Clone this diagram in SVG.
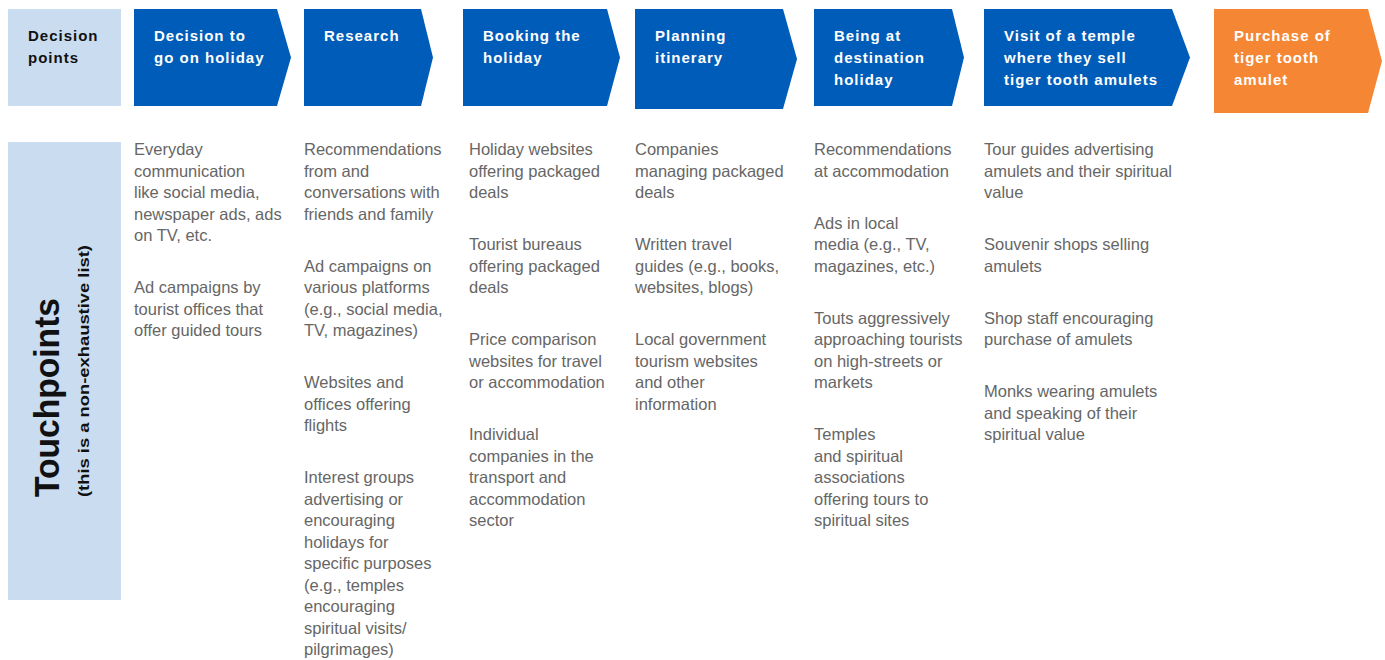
<svg xmlns="http://www.w3.org/2000/svg" width="1385" height="660" viewBox="0 0 1385 660">
<style>
.lbl{fill:#c9dcf0}
.blue{fill:#005cb9}
.orange{fill:#f58634}
.hd{font-family:"Liberation Sans",Arial,sans-serif;font-weight:bold;font-size:15px;letter-spacing:1px;fill:#ffffff}
.hdk{font-family:"Liberation Sans",Arial,sans-serif;font-weight:bold;font-size:15px;letter-spacing:1px;fill:#111111}
.tx{font-family:"Liberation Sans",Arial,sans-serif;font-size:16.5px;fill:#666666}
.big{font-family:"Liberation Sans",Arial,sans-serif;font-weight:bold;fill:#111111}
</style>
<rect width="1385" height="660" fill="#ffffff"/>

<g id="decision-points">
<rect class="lbl" x="8" y="9" width="113" height="97"/>
<text class="hdk" x="28" y="40.7">Decision</text>
<text class="hdk" x="28" y="62.7">points</text>
</g>

<g id="step1">
<polygon class="blue" points="134,9 277,9 291,57.5 277,106 134,106"/>
<text class="hd" x="154" y="40.7">Decision to</text>
<text class="hd" x="154" y="62.7">go on holiday</text>
</g>
<g id="step2">
<polygon class="blue" points="304,9 421,9 433,57.5 421,106 304,106"/>
<text class="hd" x="324" y="40.7">Research</text>
</g>
<g id="step3">
<polygon class="blue" points="463,9 607,9 620,57.5 607,106 463,106"/>
<text class="hd" x="483" y="40.7">Booking the</text>
<text class="hd" x="483" y="62.7">holiday</text>
</g>
<g id="step4">
<polygon class="blue" points="635,9 783,9 797,59 783,109 635,109"/>
<text class="hd" x="655" y="40.7">Planning</text>
<text class="hd" x="655" y="62.7">itinerary</text>
</g>
<g id="step5">
<polygon class="blue" points="814,9 952,9 964,57.5 952,106 814,106"/>
<text class="hd" x="834" y="40.7">Being at</text>
<text class="hd" x="834" y="62.7">destination</text>
<text class="hd" x="834" y="84.7">holiday</text>
</g>
<g id="step6">
<polygon class="blue" points="984,9 1172,9 1190,57.5 1172,106 984,106"/>
<text class="hd" x="1004" y="40.7">Visit of a temple</text>
<text class="hd" x="1004" y="62.7">where they sell</text>
<text class="hd" x="1004" y="84.7">tiger tooth amulets</text>
</g>
<g id="step7">
<polygon class="orange" points="1214,9 1368,9 1382,61 1368,113 1214,113"/>
<text class="hd" x="1234" y="40.7">Purchase of</text>
<text class="hd" x="1234" y="62.7">tiger tooth</text>
<text class="hd" x="1234" y="84.7">amulet</text>
</g>

<g id="connectors"></g>

<g id="touchpoints">
<rect class="lbl" x="8" y="142" width="113" height="458"/>
<text class="big" font-size="35" transform="translate(59,497) rotate(-90)" textLength="199" lengthAdjust="spacingAndGlyphs">Touchpoints</text>
<text class="big" font-size="15.5" transform="translate(89,497) rotate(-90)" textLength="252" lengthAdjust="spacingAndGlyphs">(this is a non-exhaustive list)</text>
</g>

<g id="col1">
<text class="tx" x="134" y="155">Everyday</text>
<text class="tx" x="134" y="176.5">communication</text>
<text class="tx" x="134" y="198">like social media,</text>
<text class="tx" x="134" y="219.5">newspaper ads, ads</text>
<text class="tx" x="134" y="241">on TV, etc.</text>
<text class="tx" x="134" y="293">Ad campaigns by</text>
<text class="tx" x="134" y="314.5">tourist offices that</text>
<text class="tx" x="134" y="336">offer guided tours</text>
</g>

<g id="col2">
<text class="tx" x="304" y="155">Recommendations</text>
<text class="tx" x="304" y="176.5">from and</text>
<text class="tx" x="304" y="198">conversations with</text>
<text class="tx" x="304" y="219.5">friends and family</text>
<text class="tx" x="304" y="271.5">Ad campaigns on</text>
<text class="tx" x="304" y="293">various platforms</text>
<text class="tx" x="304" y="314.5">(e.g., social media,</text>
<text class="tx" x="304" y="336">TV, magazines)</text>
<text class="tx" x="304" y="388">Websites and</text>
<text class="tx" x="304" y="409.5">offices offering</text>
<text class="tx" x="304" y="431">flights</text>
<text class="tx" x="304" y="483">Interest groups</text>
<text class="tx" x="304" y="504.5">advertising or</text>
<text class="tx" x="304" y="526">encouraging</text>
<text class="tx" x="304" y="547.5">holidays for</text>
<text class="tx" x="304" y="569">specific purposes</text>
<text class="tx" x="304" y="590.5">(e.g., temples</text>
<text class="tx" x="304" y="612">encouraging</text>
<text class="tx" x="304" y="633.5">spiritual visits/</text>
<text class="tx" x="304" y="655">pilgrimages)</text>
</g>

<g id="col3">
<text class="tx" x="469" y="155">Holiday websites</text>
<text class="tx" x="469" y="176.5">offering packaged</text>
<text class="tx" x="469" y="198">deals</text>
<text class="tx" x="469" y="250">Tourist bureaus</text>
<text class="tx" x="469" y="271.5">offering packaged</text>
<text class="tx" x="469" y="293">deals</text>
<text class="tx" x="469" y="345">Price comparison</text>
<text class="tx" x="469" y="366.5">websites for travel</text>
<text class="tx" x="469" y="388">or accommodation</text>
<text class="tx" x="469" y="440">Individual</text>
<text class="tx" x="469" y="461.5">companies in the</text>
<text class="tx" x="469" y="483">transport and</text>
<text class="tx" x="469" y="504.5">accommodation</text>
<text class="tx" x="469" y="526">sector</text>
</g>

<g id="col4">
<text class="tx" x="635" y="155">Companies</text>
<text class="tx" x="635" y="176.5">managing packaged</text>
<text class="tx" x="635" y="198">deals</text>
<text class="tx" x="635" y="250">Written travel</text>
<text class="tx" x="635" y="271.5">guides (e.g., books,</text>
<text class="tx" x="635" y="293">websites, blogs)</text>
<text class="tx" x="635" y="345">Local government</text>
<text class="tx" x="635" y="366.5">tourism websites</text>
<text class="tx" x="635" y="388">and other</text>
<text class="tx" x="635" y="409.5">information</text>
</g>

<g id="col5">
<text class="tx" x="814" y="155">Recommendations</text>
<text class="tx" x="814" y="176.5">at accommodation</text>
<text class="tx" x="814" y="228.5">Ads in local</text>
<text class="tx" x="814" y="250">media (e.g., TV,</text>
<text class="tx" x="814" y="271.5">magazines, etc.)</text>
<text class="tx" x="814" y="323.5">Touts aggressively</text>
<text class="tx" x="814" y="345">approaching tourists</text>
<text class="tx" x="814" y="366.5">on high-streets or</text>
<text class="tx" x="814" y="388">markets</text>
<text class="tx" x="814" y="440">Temples</text>
<text class="tx" x="814" y="461.5">and spiritual</text>
<text class="tx" x="814" y="483">associations</text>
<text class="tx" x="814" y="504.5">offering tours to</text>
<text class="tx" x="814" y="526">spiritual sites</text>
</g>

<g id="col6">
<text class="tx" x="984" y="155">Tour guides advertising</text>
<text class="tx" x="984" y="176.5">amulets and their spiritual</text>
<text class="tx" x="984" y="198">value</text>
<text class="tx" x="984" y="250">Souvenir shops selling</text>
<text class="tx" x="984" y="271.5">amulets</text>
<text class="tx" x="984" y="323.5">Shop staff encouraging</text>
<text class="tx" x="984" y="345">purchase of amulets</text>
<text class="tx" x="984" y="397">Monks wearing amulets</text>
<text class="tx" x="984" y="418.5">and speaking of their</text>
<text class="tx" x="984" y="440">spiritual value</text>
</g>
</svg>
